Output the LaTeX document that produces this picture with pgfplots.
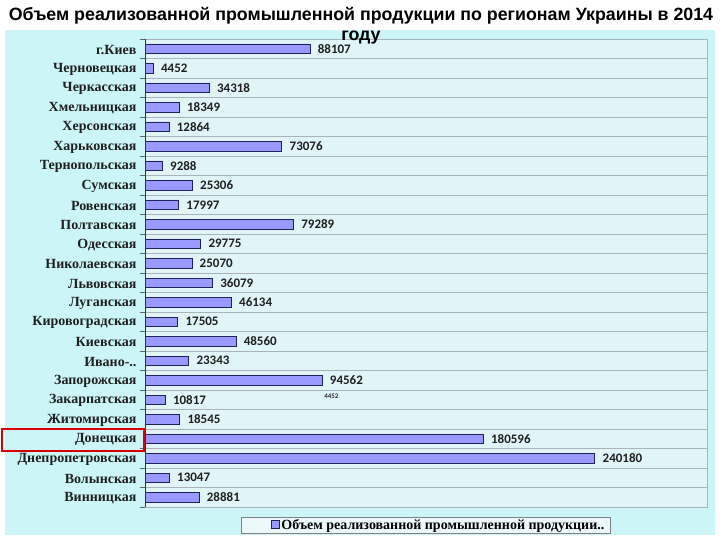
\documentclass[border=0pt]{standalone}
\usepackage{fontspec}
\setmainfont{Liberation Serif}
\newfontfamily\calib{Carlito}
\newfontfamily\arialf{Liberation Sans}
\usepackage{pgfplots}
\pgfplotsset{compat=1.18}
\usepackage{pgfplotstable}
\definecolor{outerbg}{HTML}{CCF5F8}
\definecolor{innerbg}{HTML}{E1F4F8}
\definecolor{barfill}{HTML}{9999FF}
\definecolor{barline}{HTML}{20205A}
\definecolor{gridc}{HTML}{A8B4B8}

\pgfplotstableread[col sep=comma]{
idx,val
0,88107
1,4452
2,34318
3,18349
4,12864
5,73076
6,9288
7,25306
8,17997
9,79289
10,29775
11,25070
12,36079
13,46134
14,17505
15,48560
16,23343
17,94562
18,10817
19,18545
20,180596
21,240180
22,13047
23,28881
}\datatable

\begin{document}
\begin{tikzpicture}[x=1pt,y=1pt]
\path[fill=white] (0,0) rectangle (720,540);
\fill[outerbg] (5,5) rectangle (715,510);
\begin{axis}[
  at={(145pt,33pt)}, anchor=south west,
  scale only axis, width=562pt, height=468pt,
  xbar, bar width=9.5pt,
  xmin=0, xmax=300000,
  ymin=-0.5, ymax=23.5, y dir=reverse,
  ytick={0,...,23},
  yticklabels={г.Киев,Черновецкая,Черкасская,Хмельницкая,Херсонская,Харьковская,Тернопольская,Сумская,Ровенская,Полтавская,Одесская,Николаевская,Львовская,Луганская,Кировоградская,Киевская,Ивано-..,Запорожская,Закарпатская,Житомирская,Донецкая,Днепропетровская,Волынская,Винницкая},
  yticklabel style={font=\bfseries\fontsize{14}{15}\selectfont, text=black!88, xshift=-5pt, yshift=-1pt},
  major tick length=0pt,
  minor ytick={-0.5,0.5,...,23.5},
  minor tick length=5pt,
  tick align=outside,
  ytick pos=left,
  xtick=\empty,
  yminorgrids=true,
  minor grid style={gridc, line width=0.7pt},
  minor tick style={black!60, line width=0.6pt},
  axis background/.style={fill=innerbg},
  axis line style={gridc, line width=0.7pt},
  clip=false,
  point meta=explicit symbolic,
  nodes near coords,
  nodes near coords style={font=\calib\bfseries\fontsize{13}{15}\selectfont, anchor=west, xshift=4pt, text=black!88},
  legend style={at={(0.5,-0.0385)}, anchor=center, draw=black!50, fill=innerbg!60!white,
    font=\bfseries\fontsize{14}{15}\selectfont, inner ysep=0.5pt, inner xsep=4pt},
]
\addplot[fill=barfill, draw=barline, line width=0.9pt,
  legend image code/.code={\path[draw=none, fill=none] (-26pt,0pt) rectangle (0pt,2pt);
    \draw[fill=barfill, draw=barline, line width=0.7pt] (0pt,-3pt) rectangle (7.5pt,5pt);}]
  table[x=val, y=idx, meta=val] {\datatable};
\addlegendentry{Объем реализованной промышленной продукции..}
\draw[draw=black!80, line width=0.8pt] (rel axis cs:0,0) -- (rel axis cs:0,1);
\node[font=\calib\bfseries\fontsize{7}{8}\selectfont, text=black!80] at (axis cs:99500,17.8) {4452};
\end{axis}
\draw[draw=red!85!black, line width=2pt] (1.5,89) rectangle (144,111);
\node[font=\arialf\bfseries\fontsize{17.8}{20}\selectfont, align=center, text=black] at (361,514) {Объем реализованной промышленной продукции по регионам Украины в 2014\\году};
\end{tikzpicture}
\end{document}
